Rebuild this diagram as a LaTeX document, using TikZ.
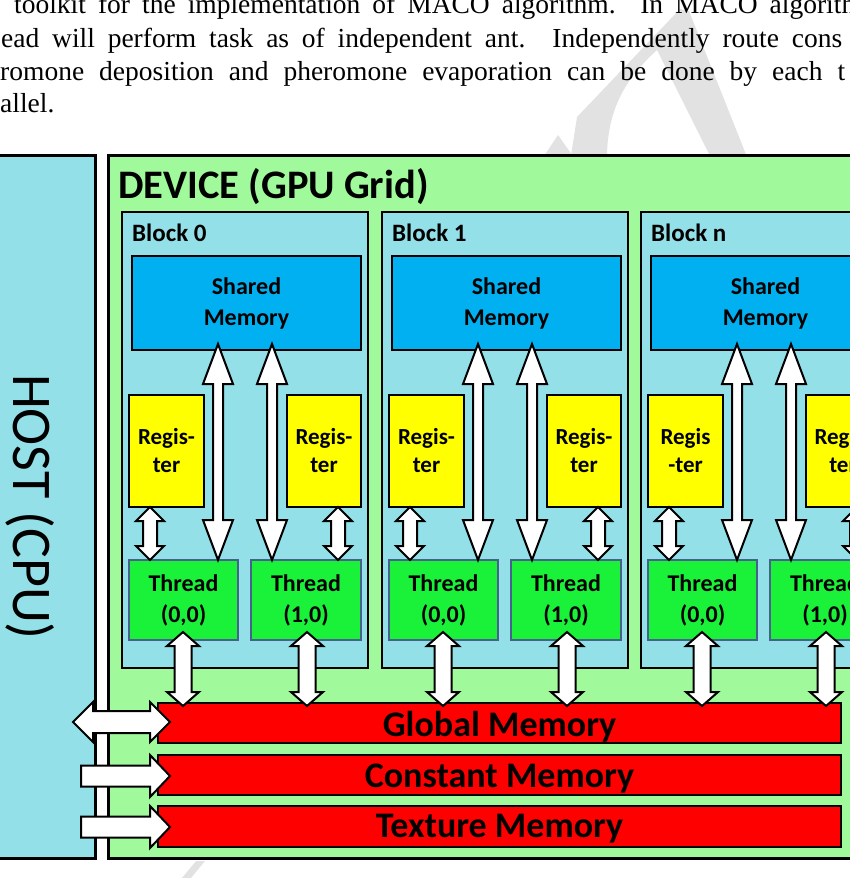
\documentclass[tikz,border=0pt]{standalone}
\usepackage{fontspec}
\setmainfont{Liberation Serif}
\newfontfamily\carlito{Carlito}
\usetikzlibrary{calc}
\definecolor{cyanbg}{RGB}{147,224,232}
\definecolor{devgreen}{RGB}{160,250,155}
\definecolor{shblue}{RGB}{0,176,240}
\definecolor{thrgreen}{RGB}{26,242,58}
\definecolor{thrborder}{RGB}{70,98,140}
\definecolor{wmgray}{RGB}{226,226,226}
\definecolor{memred}{RGB}{255,0,0}
\definecolor{regyellow}{RGB}{255,255,0}

% rectangle node from corners (x1,y1)-(x2,y2), image pixel coordinates
\newcommand\rnode[7]{\node[#6, minimum width={((#4)-(#2))*1pt}, minimum height={((#5)-(#3))*1pt}] (#1) at ({((#2)+(#4))/2},{((#3)+(#5))/2}) {#7};}
% vertical double block arrow: x, top anchor, bottom anchor, overshoot top, overshoot bottom, half shaft, half head, head length
\newcommand\vdarr[8]{\draw[barrow] let \p1=#2, \p2=#3 in
 ({(#1)*1pt},{\y1+(#4)*1pt}) -- ({(#1+#7)*1pt},{\y1+(#4-#8)*1pt}) -- ({(#1+#6)*1pt},{\y1+(#4-#8)*1pt})
 -- ({(#1+#6)*1pt},{\y2+(#8-#5)*1pt}) -- ({(#1+#7)*1pt},{\y2+(#8-#5)*1pt}) -- ({(#1)*1pt},{\y2-(#5)*1pt})
 -- ({(#1-#7)*1pt},{\y2+(#8-#5)*1pt}) -- ({(#1-#6)*1pt},{\y2+(#8-#5)*1pt}) -- ({(#1-#6)*1pt},{\y1+(#4-#8)*1pt})
 -- ({(#1-#7)*1pt},{\y1+(#4-#8)*1pt}) -- cycle;}
% horizontal double block arrow: left point, right anchor, overshoot right, half shaft, half head, head length
\newcommand\hdarr[6]{\draw[barrow] let \p1=#1, \p2=#2 in
 (\x1,\y1) -- ({\x1+(#6)*1pt},{\y1+(#5)*1pt}) -- ({\x1+(#6)*1pt},{\y1+(#4)*1pt})
 -- ({\x2+(#3-#6)*1pt},{\y1+(#4)*1pt}) -- ({\x2+(#3-#6)*1pt},{\y1+(#5)*1pt}) -- ({\x2+(#3)*1pt},\y1)
 -- ({\x2+(#3-#6)*1pt},{\y1-(#5)*1pt}) -- ({\x2+(#3-#6)*1pt},{\y1-(#4)*1pt}) -- ({\x1+(#6)*1pt},{\y1-(#4)*1pt})
 -- ({\x1+(#6)*1pt},{\y1-(#5)*1pt}) -- cycle;}
% horizontal single block arrow (flat tail)
\newcommand\hsarr[6]{\draw[barrow] let \p1=#1, \p2=#2 in
 (\x1,{\y1+(#4)*1pt}) -- ({\x2+(#3-#6)*1pt},{\y1+(#4)*1pt}) -- ({\x2+(#3-#6)*1pt},{\y1+(#5)*1pt}) -- ({\x2+(#3)*1pt},\y1)
 -- ({\x2+(#3-#6)*1pt},{\y1-(#5)*1pt}) -- ({\x2+(#3-#6)*1pt},{\y1-(#4)*1pt}) -- (\x1,{\y1-(#4)*1pt}) -- cycle;}

\begin{document}
\begin{tikzpicture}[x=1pt,y=-1pt,
  hostbox/.style={fill=cyanbg, draw=black, line width=3pt, inner sep=0pt, outer sep=0pt},
  devbox/.style={fill=devgreen, draw=black, line width=3pt, inner sep=0pt, outer sep=0pt},
  blockbox/.style={fill=cyanbg, draw=black, line width=2.5pt, inner sep=0pt, outer sep=0pt},
  shbox/.style={fill=shblue, draw=black, line width=2.2pt, inner sep=0pt, outer sep=0pt, align=center, font=\carlito\bfseries\fontsize{24}{31}\selectfont},
  regbox/.style={fill=regyellow, draw=black, line width=2.2pt, inner sep=0pt, outer sep=0pt, align=center, font=\carlito\bfseries\fontsize{23}{28}\selectfont},
  thrbox/.style={fill=thrgreen, draw=thrborder, line width=1.6pt, inner sep=0pt, outer sep=0pt, align=center, font=\carlito\bfseries\fontsize{24}{31}\selectfont},
  membox/.style={fill=memred, draw=black, line width=2.2pt, inner sep=0pt, outer sep=0pt},
  memtext/.style={inner sep=0pt, font=\carlito\bfseries\fontsize{36}{38}\selectfont},
  blklabel/.style={inner sep=0pt, font=\carlito\bfseries\fontsize{25}{28}\selectfont},
  toptext/.style={inner sep=0pt, font=\fontsize{27.5}{30}\selectfont},
  barrow/.style={fill=white, draw=black, line width=2pt, line join=miter},
  wmark/.style={fill=wmgray, draw=none}
]
\useasboundingbox (0,0) rectangle (850,878);
\clip (0,0) rectangle (850,878);

% faint watermark pieces
\fill[wmark] (570,162) -- (577,117) -- (680,9) -- (689,11) -- (749,162) -- (713,162) -- (657,50)
  .. controls (630,75) and (606,105) .. (607,162) -- cycle;
\fill[wmark] (540,162) -- (558,135) -- (577,162) -- cycle;
\fill[wmark] (182,878) -- (196,861) -- (205,861) -- (191,878) -- cycle;

% running text above the figure
\node[toptext, anchor=base west] (t1) at (14,13) {\makebox[841pt][s]{toolkit for the implementation of MACO algorithm. In MACO algorith}};
\node[toptext, anchor=base west] (t2) at (1,47) {\makebox[841pt][s]{ead will perform task as of independent ant. Independently route cons}};
\node[toptext, anchor=base west] (t3) at (0,80) {\makebox[845pt][s]{romone deposition and pheromone evaporation can be done by each t}};
\node[toptext, anchor=base west] (t4) at (0,112) {allel.};

% host and device
\rnode{host}{-10}{155}{95}{858}{hostbox}{}
\node[rotate=-90, anchor=base, inner sep=0pt, font=\carlito\fontsize{56}{60}\selectfont] (hostlbl) at (13,507) {HOST (CPU)};
\rnode{dev}{108}{155}{880}{858}{devbox}{}
\node[anchor=base west, inner sep=0pt, font=\carlito\bfseries\fontsize{40.5}{44}\selectfont] (devlbl) at (118,198) {DEVICE (GPU Grid)};

% blocks
\foreach \b/\i/\rl in {122/0/{Regis-\\ter}, 382/1/{Regis-\\ter}, 641/n/{Regis\\-ter}} {
  \rnode{blk\i}{\b}{212}{\b+246}{668}{blockbox}{}
  \node[blklabel, anchor=base west] (bl\i) at ({\b+10},241) {Block \i};
  \rnode{sh\i}{\b+10}{256}{\b+239}{350}{shbox}{Shared\\Memory}
  \rnode{rga\i}{\b+7}{395}{\b+82}{507}{regbox}{\rl}
  \rnode{rgb\i}{\b+165}{395}{\b+239}{507}{regbox}{Regis-\\ter}
  \rnode{tha\i}{\b+7}{560}{\b+116}{640}{thrbox}{Thread\\(0,0)}
  \rnode{thb\i}{\b+129}{560}{\b+239}{640}{thrbox}{Thread\\(1,0)}
}

% memories
\rnode{gm}{158}{703}{841}{743}{membox}{}
\rnode{cm}{158}{755}{841}{795}{membox}{}
\rnode{tm}{158}{806}{841}{847}{membox}{}
\node[memtext, anchor=base] (gmt) at (499.5,736) {Global Memory};
\node[memtext, anchor=base] (cmt) at (499.5,787) {Constant Memory};
\node[memtext, anchor=base] (tmt) at (499.5,837) {Texture Memory};

% arrows inside blocks
\foreach \b/\i in {122/0, 382/1, 641/n} {
  \vdarr{\b+28}{(rga\i.south)}{(tha\i.north)}{0}{0}{7}{14}{14}
  \vdarr{\b+216}{(rgb\i.south)}{(thb\i.north)}{0}{0}{7}{14}{14}
  \vdarr{\b+96}{(sh\i.south)}{(tha\i.north)}{6}{0}{5}{15}{40}
  \vdarr{\b+150}{(sh\i.south)}{(thb\i.north)}{6}{0}{5}{15}{40}
  \vdarr{\b+61}{(tha\i.south)}{(gm.north)}{8}{3}{8.5}{16}{14}
  \vdarr{\b+185}{(thb\i.south)}{(gm.north)}{8}{3}{8.5}{16}{14}
}

% host <-> memory arrows
\coordinate (hg) at (73,722);
\coordinate (hc) at (81,776);
\coordinate (ht) at (81,827);
\hdarr{(hg)}{(gm.west)}{12}{11}{20}{20}
\hsarr{(hc)}{(cm.west)}{12}{10.5}{21}{20}
\hsarr{(ht)}{(tm.west)}{12}{10.5}{21}{20}
\end{tikzpicture}
\end{document}
